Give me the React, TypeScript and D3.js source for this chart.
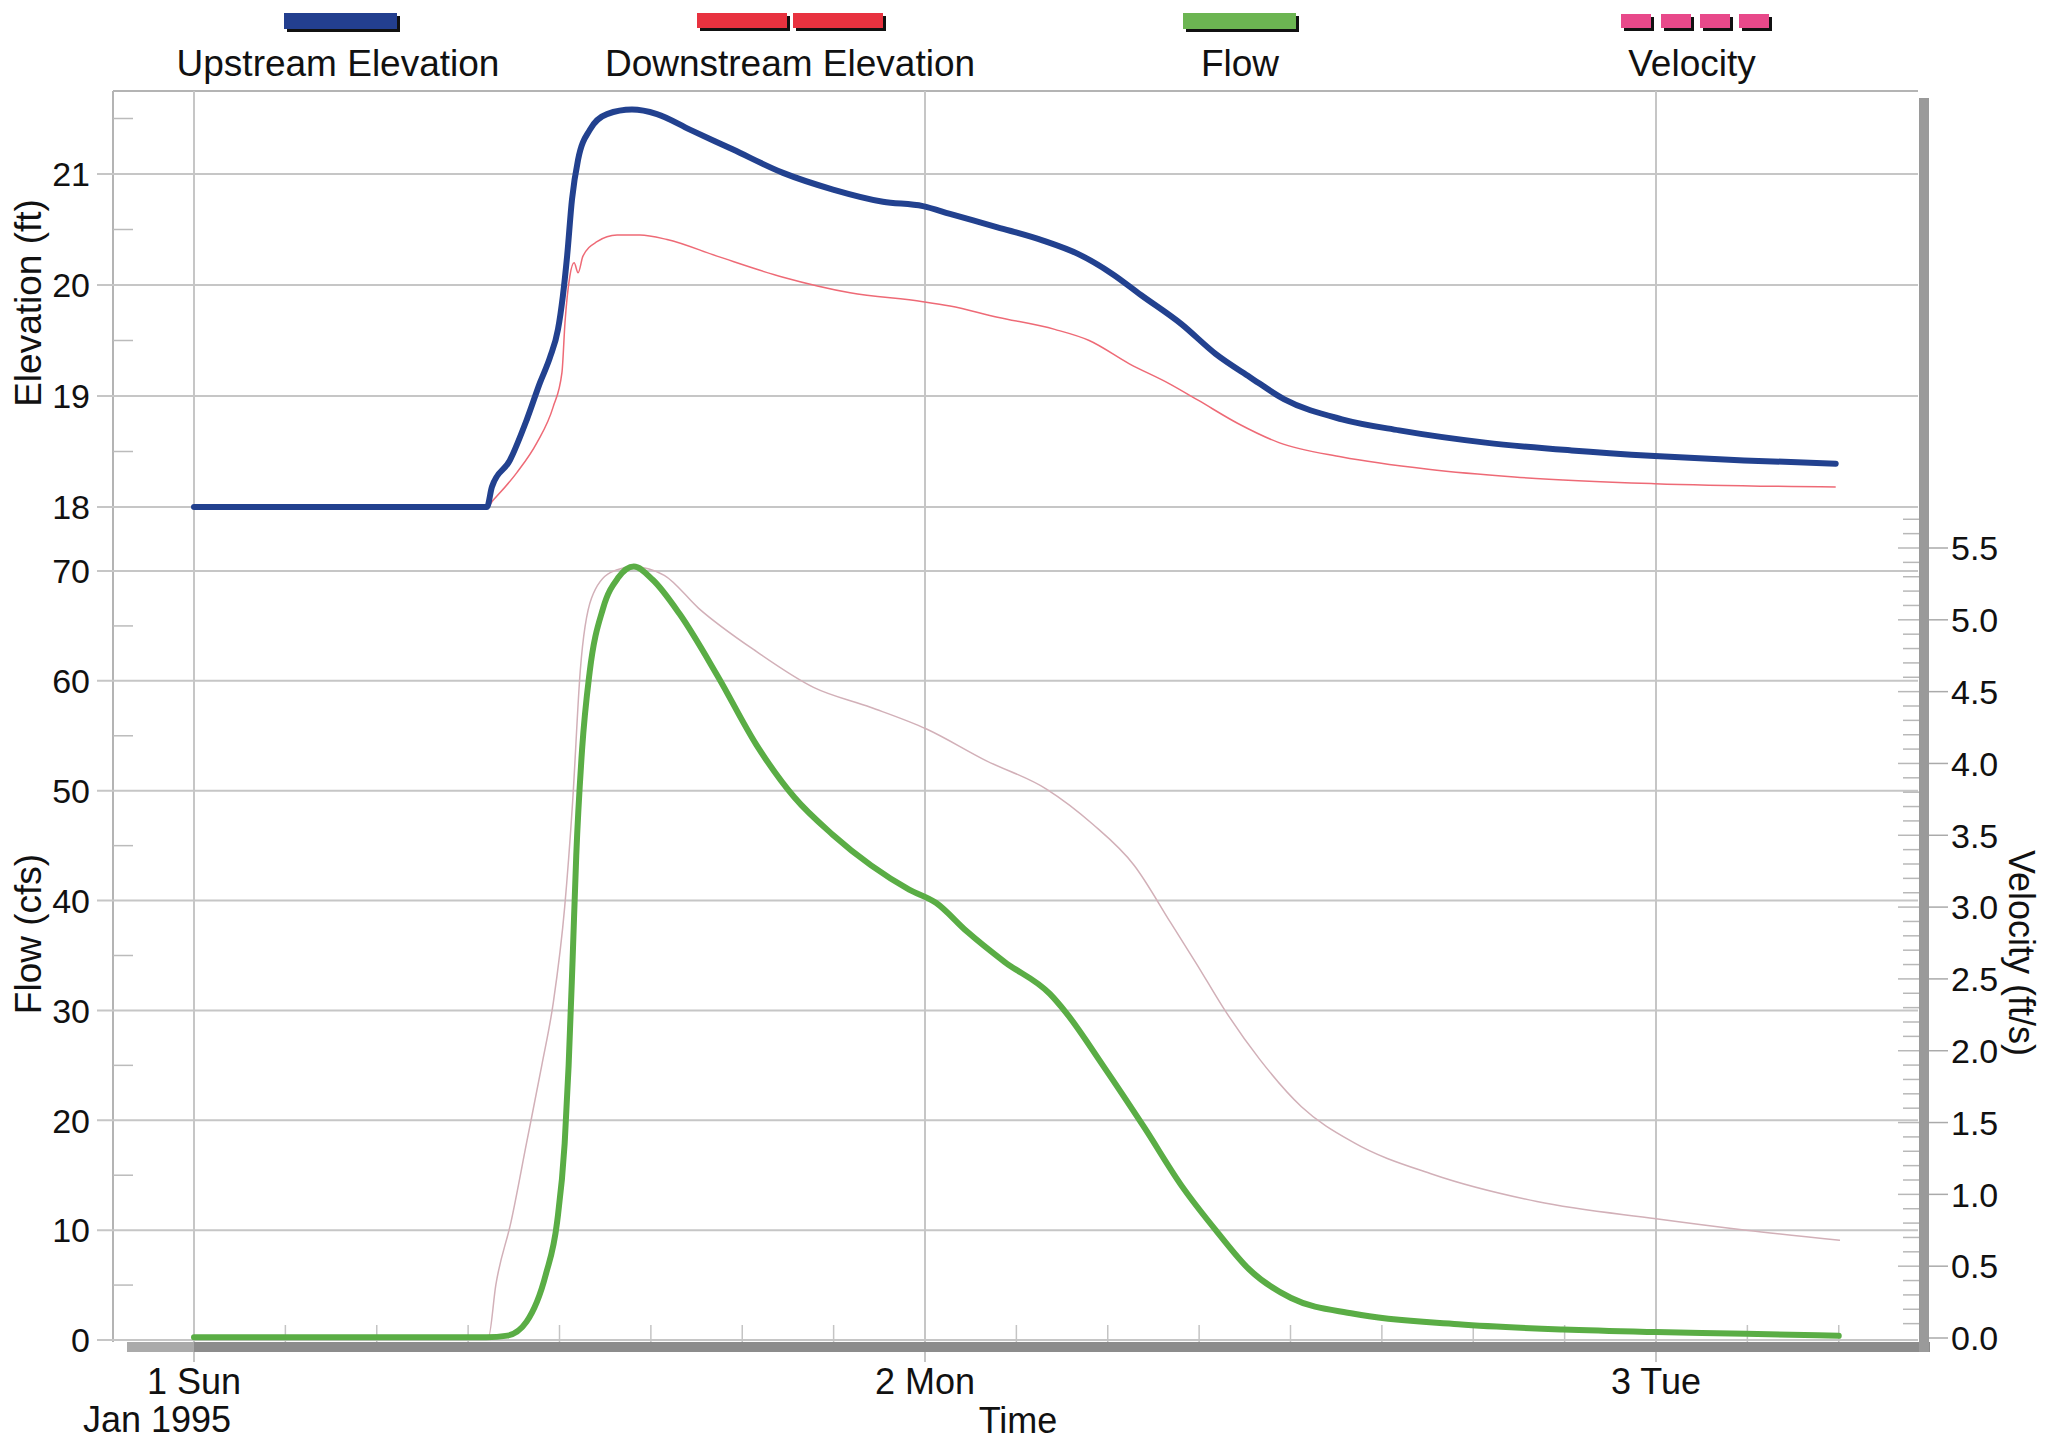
import React from "react";
import * as d3 from "d3";

// hours after 1 Jan 1995 00:00
const upHours = [0, 9.62, 9.78, 10.37, 10.93, 11.36, 11.69, 11.95, 12.11, 12.25, 12.41, 12.61, 13.0, 13.56, 14.38, 15.2, 16.28, 17.7, 19.34, 20.98, 22.62, 23.93, 24.82, 26.38, 27.88, 29.02, 30.15, 31.09, 32.41, 33.54, 34.67, 35.8, 37.69, 39.57, 42.4, 45.23, 47.96, 50.89, 53.9];
const upstream = [18.0, 18.0, 18.18, 18.42, 18.79, 19.12, 19.35, 19.6, 19.9, 20.26, 20.77, 21.13, 21.4, 21.54, 21.58, 21.54, 21.4, 21.22, 21.01, 20.86, 20.75, 20.71, 20.64, 20.52, 20.4, 20.28, 20.1, 19.91, 19.65, 19.38, 19.17, 18.97, 18.79, 18.69, 18.58, 18.51, 18.46, 18.42, 18.39];

const downHours = [0, 9.62, 9.82, 10.6, 11.26, 11.79, 12.08, 12.18, 12.34, 12.48, 12.61, 12.77, 13.23, 13.89, 14.64, 15.53, 17.17, 19.34, 21.54, 23.93, 24.82, 26.38, 28.26, 29.39, 30.71, 32.03, 32.98, 34.29, 35.62, 37.69, 40.52, 43.35, 47.96, 53.9];
const downstream = [18.0, 18.0, 18.06, 18.31, 18.58, 18.9, 19.21, 19.66, 20.08, 20.2, 20.11, 20.26, 20.39, 20.45, 20.45, 20.41, 20.26, 20.07, 19.93, 19.85, 19.81, 19.71, 19.6, 19.5, 19.29, 19.11, 18.96, 18.75, 18.58, 18.45, 18.34, 18.27, 18.21, 18.18];

const flowHours = [0, 9.6, 10.29, 10.92, 11.55, 11.92, 12.17, 12.3, 12.43, 12.55, 12.74, 12.99, 13.43, 13.93, 14.44, 15.06, 15.94, 17.2, 18.46, 19.71, 20.97, 22.23, 23.48, 24.36, 25.37, 26.62, 28.1, 28.63, 29.84, 31.21, 32.41, 33.61, 34.64, 36.02, 38.08, 41.51, 44.95, 48.0, 50.96, 54.0];
const flow = [0.25, 0.25, 0.4, 1.67, 5.96, 10.7, 17.9, 25.0, 34.6, 44.1, 53.7, 60.8, 66.6, 69.4, 70.4, 69.2, 66.1, 60.4, 54.2, 49.4, 46.0, 43.2, 41.0, 39.8, 37.2, 34.4, 31.5, 29.8, 25.0, 19.3, 14.1, 9.78, 6.44, 3.82, 2.39, 1.43, 0.95, 0.72, 0.57, 0.38];

const velHours = [0, 9.66, 9.91, 10.41, 10.92, 11.42, 11.8, 12.17, 12.43, 12.68, 13.05, 13.68, 14.44, 15.44, 16.57, 18.46, 20.34, 22.23, 24.05, 26.0, 28.0, 29.49, 30.87, 32.07, 32.93, 33.79, 34.99, 36.36, 38.08, 40.66, 44.09, 48.0, 50.96, 54.04];
const velocity = [0, 0, 0.37, 0.81, 1.36, 1.9, 2.34, 3.0, 3.73, 4.64, 5.15, 5.33, 5.37, 5.31, 5.08, 4.78, 4.53, 4.39, 4.24, 4.02, 3.82, 3.58, 3.29, 2.89, 2.6, 2.3, 1.94, 1.61, 1.36, 1.14, 0.95, 0.83, 0.75, 0.68];

const dayTicks = [0, 24, 48];
const dayLabels = ["1 Sun", "2 Mon", "3 Tue"];
const elevTicks = [18, 19, 20, 21];
const flowTicks = [0, 10, 20, 30, 40, 50, 60, 70];
const velTicks = [0, 0.5, 1, 1.5, 2, 2.5, 3, 3.5, 4, 4.5, 5, 5.5];
const legendNames = ["Upstream Elevation", "Downstream Elevation", "Flow", "Velocity"];

const FONT = "'Liberation Sans', Arial, sans-serif";
const GRID = "#c6c6c6";

const App = () => {
  const W = 2049, H = 1445;
  const left = 113, right = 1918, top = 91, bottom = 1342;

  const x = d3.scaleLinear().domain([0, 48]).range([194, 1656]);
  const yElev = d3.scaleLinear().domain([18, 21]).range([507, 174]);
  const yFlow = d3.scaleLinear().domain([0, 70]).range([1340, 571]);
  const yVel = d3.scaleLinear().domain([0, 5.5]).range([1338, 548]);

  const mk = (hours: number[], vals: number[], y: d3.ScaleLinear<number, number>) =>
    d3.line<number>()
      .x((_, i) => x(hours[i]))
      .y(d => y(d))
      .curve(d3.curveMonotoneX)(vals) || "";

  const minorX = d3.range(3, 55, 3).filter(h => h % 24 !== 0);
  const minorElev = [18.5, 19.5, 20.5, 21.5];
  const minorFlow = d3.range(5, 70, 10);
  const minorVel = d3.range(1, 58).map(d => d / 10);

  const legendX = [338, 790, 1240, 1692];

  return (
    <svg width={W} height={H} style={{ position: "absolute", left: 0, top: 0, background: "#fff" }} fontFamily={FONT}>
      {/* legend */}
      <g>
        <rect x={287} y={16} width={113} height={16} fill="#111" />
        <rect x={284} y={13} width={113} height={16} fill="#233f8f" />
        {[697, 793].map(s => (
          <g key={s}>
            <rect x={s + 3} y={16} width={90} height={15} fill="#111" />
            <rect x={s} y={13} width={90} height={15} fill="#e8323f" />
          </g>
        ))}
        <rect x={1186} y={16} width={113} height={16} fill="#111" />
        <rect x={1183} y={13} width={113} height={16} fill="#6cb552" />
        {[1621, 1661, 1700, 1739].map(s => (
          <g key={s}>
            <rect x={s + 3} y={17} width={30} height={14} fill="#111" />
            <rect x={s} y={14} width={30} height={14} fill="#e8498a" />
          </g>
        ))}
        {legendNames.map((n, i) => (
          <text key={n} x={legendX[i]} y={76} fontSize={37} textAnchor="middle" fill="#111">{n}</text>
        ))}
      </g>

      {/* frame */}
      <line x1={left} x2={left} y1={top} y2={bottom} stroke="#b4b4b4" strokeWidth={2} />
      <line x1={left} x2={right} y1={top} y2={top} stroke="#b4b4b4" strokeWidth={2} />

      {/* grid */}
      {dayTicks.map(h => (
        <line key={h} x1={x(h)} x2={x(h)} y1={top} y2={1362} stroke={GRID} strokeWidth={2} />
      ))}
      {elevTicks.map(v => (
        <line key={"e" + v} x1={97} x2={right} y1={yElev(v)} y2={yElev(v)} stroke={GRID} strokeWidth={2} />
      ))}
      {flowTicks.map(v => (
        <line key={"f" + v} x1={97} x2={right} y1={yFlow(v)} y2={yFlow(v)} stroke={GRID} strokeWidth={2} />
      ))}
      {minorElev.map(v => (
        <line key={"me" + v} x1={left} x2={133} y1={yElev(v)} y2={yElev(v)} stroke="#bbb" strokeWidth={1.5} />
      ))}
      {minorFlow.map(v => (
        <line key={"mf" + v} x1={left} x2={133} y1={yFlow(v)} y2={yFlow(v)} stroke="#bbb" strokeWidth={1.5} />
      ))}
      {minorX.map(h => (
        <line key={"mx" + h} x1={x(h)} x2={x(h)} y1={1325} y2={bottom} stroke="#c4c4c4" strokeWidth={1.5} />
      ))}
      {minorVel.map(v => (
        <line key={"mv" + v} x1={v % 0.5 < 0.01 ? 1898 : 1903} x2={1919} y1={yVel(v)} y2={yVel(v)} stroke="#b8b8b8" strokeWidth={1.5} />
      ))}

      {/* axes bars */}
      <rect x={127} y={bottom} width={x(0) - 127} height={10} fill="#aaaaaa" />
      <rect x={x(0)} y={bottom} width={1930 - x(0)} height={10} fill="#8c8c8c" />
      <rect x={1919} y={98} width={10} height={bottom + 10 - 98} fill="#9a9a9a" />
      {velTicks.map(v => (
        <line key={"vt" + v} x1={1929} x2={1948} y1={yVel(v)} y2={yVel(v)} stroke="#aaa" strokeWidth={1.5} />
      ))}

      {/* series */}
      <path d={mk(velHours, velocity, yVel)} fill="none" stroke="#d2b0b8" strokeWidth={1.5} />
      <path d={mk(downHours, downstream, yElev)} fill="none" stroke="#ee6a76" strokeWidth={1.5} />
      <path d={mk(upHours, upstream, yElev)} fill="none" stroke="#22418f" strokeWidth={6} strokeLinecap="round" />
      <path d={mk(flowHours, flow, yFlow)} fill="none" stroke="#5aad45" strokeWidth={6} strokeLinecap="round" />

      {/* tick labels */}
      {elevTicks.map(v => (
        <text key={"el" + v} x={90} y={yElev(v)} dy="0.36em" fontSize={34} textAnchor="end" fill="#111">{v}</text>
      ))}
      {flowTicks.map(v => (
        <text key={"fl" + v} x={90} y={yFlow(v)} dy="0.36em" fontSize={34} textAnchor="end" fill="#111">{v}</text>
      ))}
      {velTicks.map(v => (
        <text key={"vl" + v} x={1951} y={yVel(v)} dy="0.36em" fontSize={34} fill="#111">{d3.format(".1f")(v)}</text>
      ))}
      {dayTicks.map((h, i) => (
        <text key={"d" + h} x={x(h)} y={1394} fontSize={36} textAnchor="middle" fill="#111">{dayLabels[i]}</text>
      ))}
      <text x={157} y={1432} fontSize={36} textAnchor="middle" fill="#111">Jan 1995</text>
      <text x={1018} y={1433} fontSize={36} textAnchor="middle" fill="#111">Time</text>

      {/* axis titles */}
      <text transform="translate(41,303) rotate(-90)" fontSize={37} textAnchor="middle" fill="#111">Elevation (ft)</text>
      <text transform="translate(41,934) rotate(-90)" fontSize={37} textAnchor="middle" fill="#111">Flow (cfs)</text>
      <text transform="translate(2009,953) rotate(90)" fontSize={36} textAnchor="middle" fill="#111">Velocity (ft/s)</text>
    </svg>
  );
};

export default App;
